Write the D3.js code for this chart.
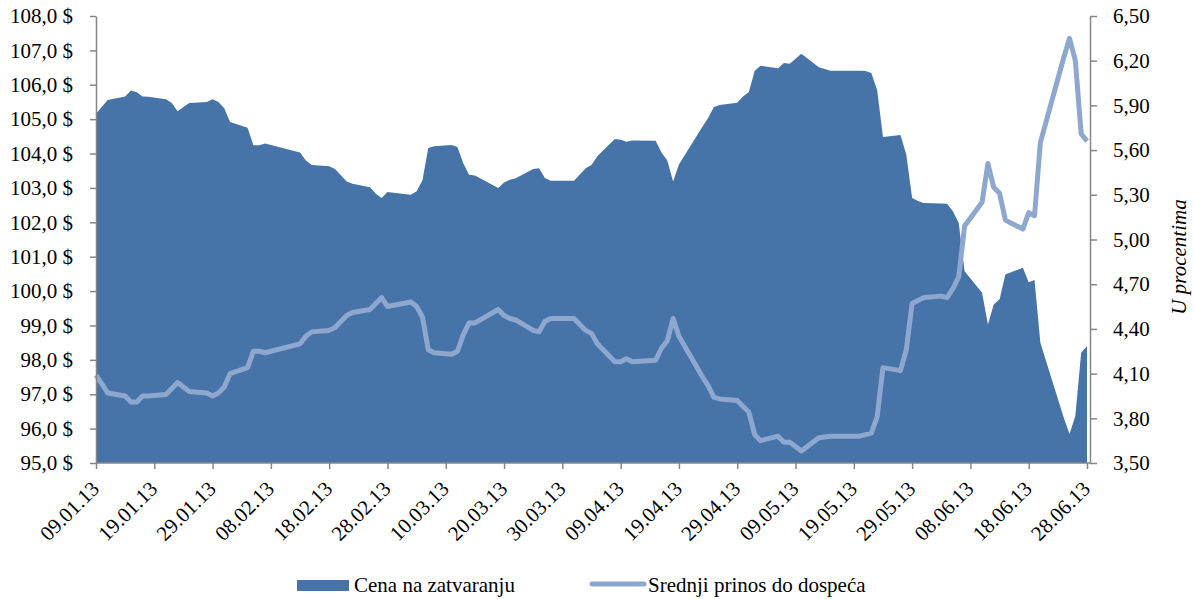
<!DOCTYPE html>
<html>
<head>
<meta charset="utf-8">
<script src="https://cdn.jsdelivr.net/npm/d3@7"></script>
<style>
  html, body { margin: 0; padding: 0; background: #fff; }
  svg { display: block; }
  text { font-family: "Liberation Serif", "Times New Roman", serif; fill: #000; }
</style>
</head>
<body>
<svg id="chart" width="1194" height="599"></svg>
<script>
// ---- data ----
const dates = ["09.01.13","11.01.13","14.01.13","15.01.13","16.01.13","17.01.13","18.01.13","21.01.13","22.01.13","23.01.13","24.01.13","25.01.13","28.01.13","29.01.13","30.01.13","31.01.13","01.02.13","04.02.13","05.02.13","06.02.13","07.02.13","13.02.13","14.02.13","15.02.13","18.02.13","19.02.13","20.02.13","21.02.13","22.02.13","25.02.13","26.02.13","27.02.13","28.02.13","04.03.13","05.03.13","06.03.13","07.03.13","08.03.13","11.03.13","12.03.13","13.03.13","14.03.13","15.03.13","19.03.13","20.03.13","21.03.13","22.03.13","25.03.13","26.03.13","27.03.13","28.03.13","01.04.13","02.04.13","03.04.13","04.04.13","05.04.13","08.04.13","09.04.13","10.04.13","11.04.13","15.04.13","16.04.13","17.04.13","18.04.13","19.04.13","23.04.13","24.04.13","25.04.13","26.04.13","29.04.13","30.04.13","01.05.13","02.05.13","03.05.13","06.05.13","07.05.13","08.05.13","10.05.13","13.05.13","15.05.13","20.05.13","21.05.13","22.05.13","23.05.13","24.05.13","27.05.13","28.05.13","29.05.13","30.05.13","31.05.13","03.06.13","04.06.13","05.06.13","06.06.13","07.06.13","10.06.13","11.06.13","12.06.13","13.06.13","14.06.13","17.06.13","18.06.13","19.06.13","20.06.13","24.06.13","25.06.13","26.06.13","27.06.13","28.06.13"];

const closingPrice = [105.16,105.56,105.66,105.83,105.78,105.66,105.65,105.58,105.47,105.23,105.35,105.47,105.50,105.58,105.50,105.32,104.92,104.75,104.24,104.24,104.29,104.03,103.80,103.67,103.63,103.55,103.37,103.19,103.12,103.02,102.83,102.71,102.88,102.80,102.90,103.22,104.16,104.21,104.25,104.19,103.72,103.38,103.36,103.00,103.16,103.24,103.28,103.55,103.57,103.29,103.21,103.21,103.39,103.57,103.67,103.92,104.42,104.40,104.34,104.38,104.37,104.03,103.80,103.19,103.68,104.77,105.03,105.35,105.41,105.48,105.66,105.79,106.41,106.55,106.48,106.63,106.61,106.90,106.51,106.41,106.41,106.40,106.34,105.85,104.48,104.54,103.97,102.71,102.62,102.56,102.55,102.54,102.32,101.98,100.58,99.95,99.03,99.61,99.76,100.48,100.68,100.26,100.32,98.50,96.32,95.84,96.37,98.21,98.40];

const avgYield = [4.09,3.97,3.95,3.91,3.91,3.95,3.95,3.96,4.00,4.04,4.01,3.98,3.97,3.95,3.97,4.01,4.10,4.14,4.25,4.25,4.24,4.30,4.35,4.38,4.39,4.41,4.45,4.49,4.51,4.53,4.57,4.61,4.55,4.58,4.55,4.48,4.26,4.24,4.23,4.25,4.36,4.44,4.44,4.53,4.49,4.47,4.46,4.39,4.38,4.45,4.47,4.47,4.43,4.39,4.37,4.30,4.18,4.18,4.20,4.18,4.19,4.27,4.32,4.47,4.35,4.08,4.02,3.94,3.93,3.92,3.88,3.84,3.69,3.65,3.68,3.64,3.64,3.58,3.67,3.68,3.68,3.69,3.70,3.81,4.14,4.12,4.26,4.57,4.59,4.61,4.62,4.61,4.67,4.75,5.09,5.25,5.51,5.35,5.31,5.13,5.07,5.18,5.16,5.65,6.22,6.35,6.20,5.71,5.66];

const xTickLabels = ["09.01.13","19.01.13","29.01.13","08.02.13","18.02.13","28.02.13","10.03.13","20.03.13","30.03.13","09.04.13","19.04.13","29.04.13","09.05.13","19.05.13","29.05.13","08.06.13","18.06.13","28.06.13"];
const leftTicks = [95,96,97,98,99,100,101,102,103,104,105,106,107,108];
const rightTicks = [3.5,3.8,4.1,4.4,4.7,5.0,5.3,5.6,5.9,6.2,6.5];

const seriesNames = ["Cena na zatvaranju", "Srednji prinos do dospeća"];
const rightAxisTitle = "U procentima";

// ---- layout ----
const svg = d3.select("#chart");
const plot = { left: 96, right: 1090, top: 16, bottom: 463 };
const areaColor = "#4673A8";
const lineColor = "#8EA7CF";
const axisColor = "#868686";
const fontSize = 21;

const parse = d3.timeParse("%d.%m.%y");
const rows = dates.map((d, i) => ({ date: parse(d), price: closingPrice[i], yld: avgYield[i] }));

const x = d3.scaleTime()
  .domain([parse("09.01.13"), parse("28.06.13")])
  .range([plot.left, 1087]);
const yL = d3.scaleLinear().domain([95, 108]).range([plot.bottom, plot.top]);
const yR = d3.scaleLinear().domain([3.5, 6.5]).range([plot.bottom, plot.top]);

// area
svg.append("path")
  .datum(rows)
  .attr("fill", areaColor)
  .attr("d", d3.area().x(d => x(d.date)).y0(yL(95)).y1(d => yL(d.price)));

// line
svg.append("path")
  .datum(rows)
  .attr("fill", "none")
  .attr("stroke", lineColor)
  .attr("stroke-width", 5)
  .attr("stroke-linejoin", "round")
  .attr("stroke-linecap", "butt")
  .attr("d", d3.line().x(d => x(d.date)).y(d => yR(d.yld)));

function styleAxis(g) {
  g.selectAll("path.domain").attr("stroke", axisColor).attr("stroke-width", 1.5);
  g.selectAll(".tick line").attr("stroke", axisColor).attr("stroke-width", 1.5);
  g.selectAll("text")
    .style("font-family", '"Liberation Serif", "Times New Roman", serif')
    .style("font-size", fontSize + "px")
    .attr("fill", "#000");
}

// left axis
const fmtL = v => d3.format(".1f")(v).replace(".", ",") + " $";
svg.append("g")
  .attr("transform", `translate(${plot.left},0)`)
  .call(d3.axisLeft(yL).tickValues(leftTicks).tickFormat(fmtL).tickSize(6).tickSizeOuter(0).tickPadding(17))
  .call(styleAxis);

// right axis
const fmtR = v => d3.format(".2f")(v).replace(".", ",");
svg.append("g")
  .attr("transform", `translate(${plot.right},0)`)
  .call(d3.axisRight(yR).tickValues(rightTicks).tickFormat(fmtR).tickSize(7).tickSizeOuter(0).tickPadding(16))
  .call(styleAxis);

// bottom axis
const xTickDates = xTickLabels.map(parse);
const xg = svg.append("g")
  .attr("transform", `translate(0,${plot.bottom})`)
  .call(d3.axisBottom(x).tickValues(xTickDates).tickFormat(d3.timeFormat("%d.%m.%y")).tickSize(6).tickSizeOuter(0))
  .call(styleAxis);
xg.select("path.domain").attr("d", `M${plot.left},0H${plot.right}`);
xg.selectAll(".tick text")
  .attr("text-anchor", "end")
  .attr("dy", 0)
  .attr("y", 0)
  .attr("transform", "translate(4,27) rotate(-45)");

// right axis title
svg.append("text")
  .attr("transform", "translate(1186,257) rotate(-90)")
  .attr("text-anchor", "middle")
  .style("font-size", fontSize + "px")
  .style("font-style", "italic")
  .text(rightAxisTitle);

// legend
const lg = svg.append("g");
lg.append("rect").attr("x", 297).attr("y", 580).attr("width", 52).attr("height", 11).attr("fill", areaColor);
lg.append("text").attr("x", 354).attr("y", 592).style("font-size", fontSize + "px").text(seriesNames[0]);
lg.append("line").attr("x1", 592).attr("x2", 644).attr("y1", 584).attr("y2", 584)
  .attr("stroke", lineColor).attr("stroke-width", 5).attr("stroke-linecap", "round");
lg.append("text").attr("x", 648).attr("y", 592).style("font-size", fontSize + "px").text(seriesNames[1]);
</script>
</body>
</html>
